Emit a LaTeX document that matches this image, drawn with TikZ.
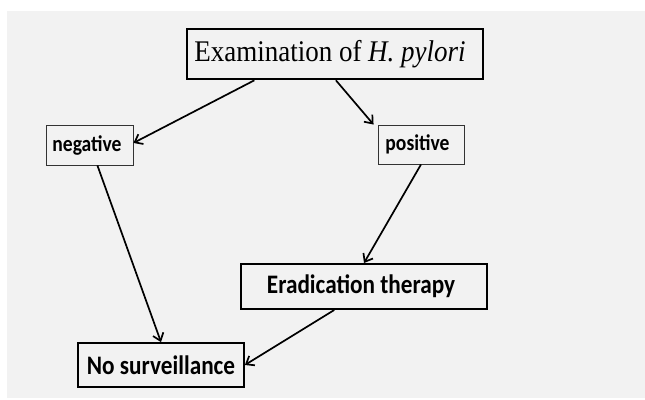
\documentclass[tikz,border=0pt]{standalone}
\usepackage{fontspec}
\setmainfont{Liberation Serif}[FakeStretch=0.9]
\newfontfamily\calfont{Carlito}[FakeStretch=0.87]
\usetikzlibrary{arrows.meta,calc}
\definecolor{bggray}{HTML}{F2F2F2}
\tikzset{
  box/.style={draw=black, fill=bggray, inner sep=0pt, rectangle},
  thinbox/.style={box, draw=black!80, line width=0.9pt},
  smalltext/.style={font=\calfont\bfseries\fontsize{22.5}{25}\selectfont},
  bigtext/.style={font=\calfont\bfseries\fontsize{26.7}{30}\selectfont},
  arr/.style={line width=1.7pt, -{Straight Barb[length=7pt,width=11pt,line width=1.7pt]}},
}
\begin{document}
\begin{tikzpicture}[x=1pt,y=1pt]
\useasboundingbox (0,0) rectangle (645,399);
\fill[bggray] (7,1) rectangle (645,388);
\node[box, line width=2.6pt, minimum width=296pt, minimum height=50pt, font=\fontsize{30}{33}\selectfont]
  (exam) at (335,345) {\hspace*{-10pt}Examination of \textit{H. pylori}};
\node[thinbox, minimum width=87pt, minimum height=40pt, smalltext]
  (neg) at (89.5,254) {\hspace*{-5pt}negative};
\node[thinbox, minimum width=86pt, minimum height=39pt, smalltext]
  (pos) at (421,254.5) {\hspace*{-7pt}positive};
\node[box, line width=2pt, minimum width=246pt, minimum height=45pt, bigtext]
  (erad) at (364,112.5) {\hspace*{-6pt}Eradication therapy};
\node[box, line width=1.8pt, minimum width=166pt, minimum height=44pt, bigtext]
  (nos) at (161,34) {No surveillance};
\draw[arr] ($(exam.south west)!0.23!(exam.south east)$) -- ($(neg.north east)!0.45!(neg.south east)$);
\draw[arr] ($(exam.south west)!0.503!(exam.south east)$) -- ($(pos.north west)+(-4,0)$);
\draw[arr] ($(neg.south west)!0.59!(neg.south east)$) -- (nos.north);
\draw[arr] (pos.south) -- (erad.north);
\draw[arr] ($(erad.south west)!0.38!(erad.south east)$) -- (nos.east);
\end{tikzpicture}
\end{document}
